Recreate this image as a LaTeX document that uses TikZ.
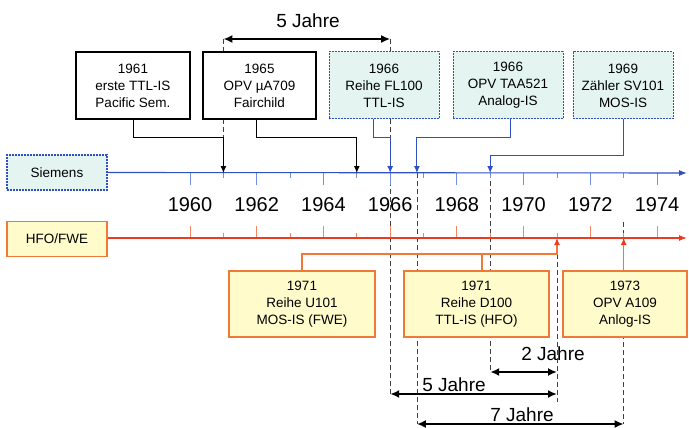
\documentclass[tikz,border=0pt]{standalone}
\usepackage{fontspec}
\setmainfont{Liberation Sans}
\usetikzlibrary{arrows.meta}
\definecolor{siblue}{HTML}{2F4FC4}
\definecolor{sitick}{HTML}{7090E0}
\definecolor{sifill}{HTML}{E3F4F1}
\definecolor{hfred}{HTML}{EE3A1E}
\definecolor{hforange}{HTML}{F07838}
\definecolor{hftick}{HTML}{F08868}
\definecolor{hffill}{HTML}{FFFBCB}

\begin{document}
\begin{tikzpicture}[x=1pt,y=-1pt,
  boxtxt/.style={align=center,inner sep=0pt,font=\fontsize{13.5}{17}\selectfont},
  oldbox/.style={boxtxt,draw=black,fill=white,line width=1.1pt,minimum height=67pt},
  sibox/.style={boxtxt,draw=siblue,fill=sifill,line width=1pt,dash pattern=on 2pt off 1pt,minimum height=67pt},
  hfbox/.style={boxtxt,draw=hforange,fill=hffill,line width=1.1pt,minimum height=66pt},
  tag/.style={inner sep=0pt,minimum width=100pt,minimum height=35pt,line width=1.1pt,font=\fontsize{13.5}{16}\selectfont},
  blkconn/.style={line width=1pt,-{Latex[length=7pt,width=6pt]}},
  siconn/.style={draw=siblue,line width=1pt,-{Latex[length=7pt,width=6pt]}},
  hfconn/.style={draw=hforange,line width=1.1pt,-{Latex[length=7pt,width=6pt,color=hfred]}},
  guide/.style={black!75,line width=0.8pt,dash pattern=on 5pt off 3pt},
  span/.style={line width=2.2pt,{Latex[length=9pt,width=8pt]}-{Latex[length=9pt,width=8pt]}},
  jahr/.style={font=\fontsize{19}{22}\selectfont},
  year/.style={font=\fontsize{20}{22}\selectfont}]
  \useasboundingbox (0,0) rectangle (689,428);

  % points on the two time lines
  \coordinate (s61) at (223.4,173);
  \coordinate (s65) at (356.8,173);
  \coordinate (s66) at (390.2,173);
  \coordinate (s67) at (416.9,173);
  \coordinate (s69) at (490.2,173);
  \coordinate (siend) at (687,173);
  \coordinate (h71) at (557,238);
  \coordinate (h73) at (623.7,238);
  \coordinate (hfend) at (687,238);
  % corners of the connectors
  \coordinate (k61) at (223.4,138);
  \coordinate (k65) at (356.8,138);
  \coordinate (k66) at (390.2,138);
  \coordinate (k67) at (416.9,138);
  \coordinate (k69) at (490.2,155);
  \coordinate (k71) at (557,254);
  % ends of the span arrows
  \coordinate (t61) at (223.4,39);
  \coordinate (t66) at (390.2,39);
  \coordinate (a69) at (490.2,372);
  \coordinate (a71) at (557,372);
  \coordinate (b66) at (390.2,394);
  \coordinate (b71) at (557,394);
  \coordinate (c67) at (416.9,424);
  \coordinate (c73) at (623.7,424);

  % dashed guides (behind the boxes)
  \draw[guide] (t61) -- (k61);
  \draw[guide] (t66) -- (k66);
  \draw[guide] (s66) -- (b66);
  \draw[guide] (s67) -- (c67);
  \draw[guide] (s69) -- (a69);
  \draw[guide] (k71) -- ++(0,148);
  \draw[guide] (623.7,222) -- (c73);

  % ticks and years
  \foreach \y in {1960,...,1974}{
    \pgfmathsetmacro\xx{190+33.36*(\y-1960)}
    \pgfmathsetmacro\tl{isodd(\y) ? 5 : 12}
    \draw[sitick,line width=0.9pt] (\xx,173) -- ++(0,\tl);
    \draw[hftick,line width=0.9pt] (\xx,238) -- ++(0,-\tl);
  }
  \foreach \y in {1960,1962,...,1974}{
    \pgfmathsetmacro\xx{190+33.36*(\y-1960)}
    \node[year] (y\y) at (\xx,205) {\y};
  }

  % company tags and time lines
  \node[tag,draw=siblue,fill=sifill,dash pattern=on 2pt off 1pt] (sie) at (57,172.5) {Siemens};
  \node[tag,draw=hforange,fill=hffill] (hfo) at (57,239) {HFO/FWE};
  \draw[siblue,line width=1.1pt,-{Latex[length=8pt,width=6pt]}] (sie.east) -- (siend);
  \draw[hfred,line width=1.1pt,-{Latex[length=8pt,width=6pt]}] (hfo.east |- hfend) -- (hfend);

  % event boxes
  \node[oldbox,minimum width=114pt] (b61) at (133,85.5) {1961\\erste TTL-IS\\Pacific Sem.};
  \node[oldbox,minimum width=113pt] (b65) at (259.5,85.5) {1965\\OPV µA709\\Fairchild};
  \node[sibox,minimum width=110pt] (b66f) at (384,85.5) {1966\\Reihe FL100\\TTL-IS};
  \node[sibox,minimum width=110pt] (b66t) at (508,85.5) {1966\\OPV TAA521\\Analog-IS};
  \node[sibox,minimum width=100pt] (b69) at (623,85.5) {1969\\Zähler SV101\\MOS-IS};
  \node[hfbox,minimum width=146pt] (b71u) at (302,304) {1971\\Reihe U101\\MOS-IS (FWE)};
  \node[hfbox,minimum width=145pt] (b71d) at (476.5,304) {1971\\Reihe D100\\TTL-IS (HFO)};
  \node[hfbox,minimum width=124pt] (b73) at (625,304) {1973\\OPV A109\\Anlog-IS};

  % connectors
  \draw[blkconn] (b61.south) |- (k61) -- (s61);
  \draw[blkconn] ([xshift=-3.5pt]b65.south) |- (k65) -- (s65);
  \draw[siconn] ([xshift=-11pt]b66f.south) |- (k66) -- (s66);
  \draw[siconn] ([xshift=2pt]b66t.south) |- (k67) -- (s67);
  \draw[siconn] (b69.south) |- (k69) -- (s69);
  \draw[hfconn] (b71u.north) |- (k71) -- (h71);
  \draw[draw=hforange,line width=1.1pt] ([xshift=5.5pt]b71d.north) -- ++(0,-17);
  \draw[hfconn] (b73.north -| h73) -- (h73);

  % spans
  \draw[span] (t61) -- (t66);
  \draw[span] (a69) -- (a71);
  \draw[span] (b66) -- (b71);
  \draw[span] (c67) -- (c73);
  \node[jahr] (j5top) at (308,21) {5 Jahre};
  \node[jahr] (j2) at (553,354) {2 Jahre};
  \node[jahr] (j5) at (454,385) {5 Jahre};
  \node[jahr] (j7) at (522,415) {7 Jahre};
\end{tikzpicture}
\end{document}
